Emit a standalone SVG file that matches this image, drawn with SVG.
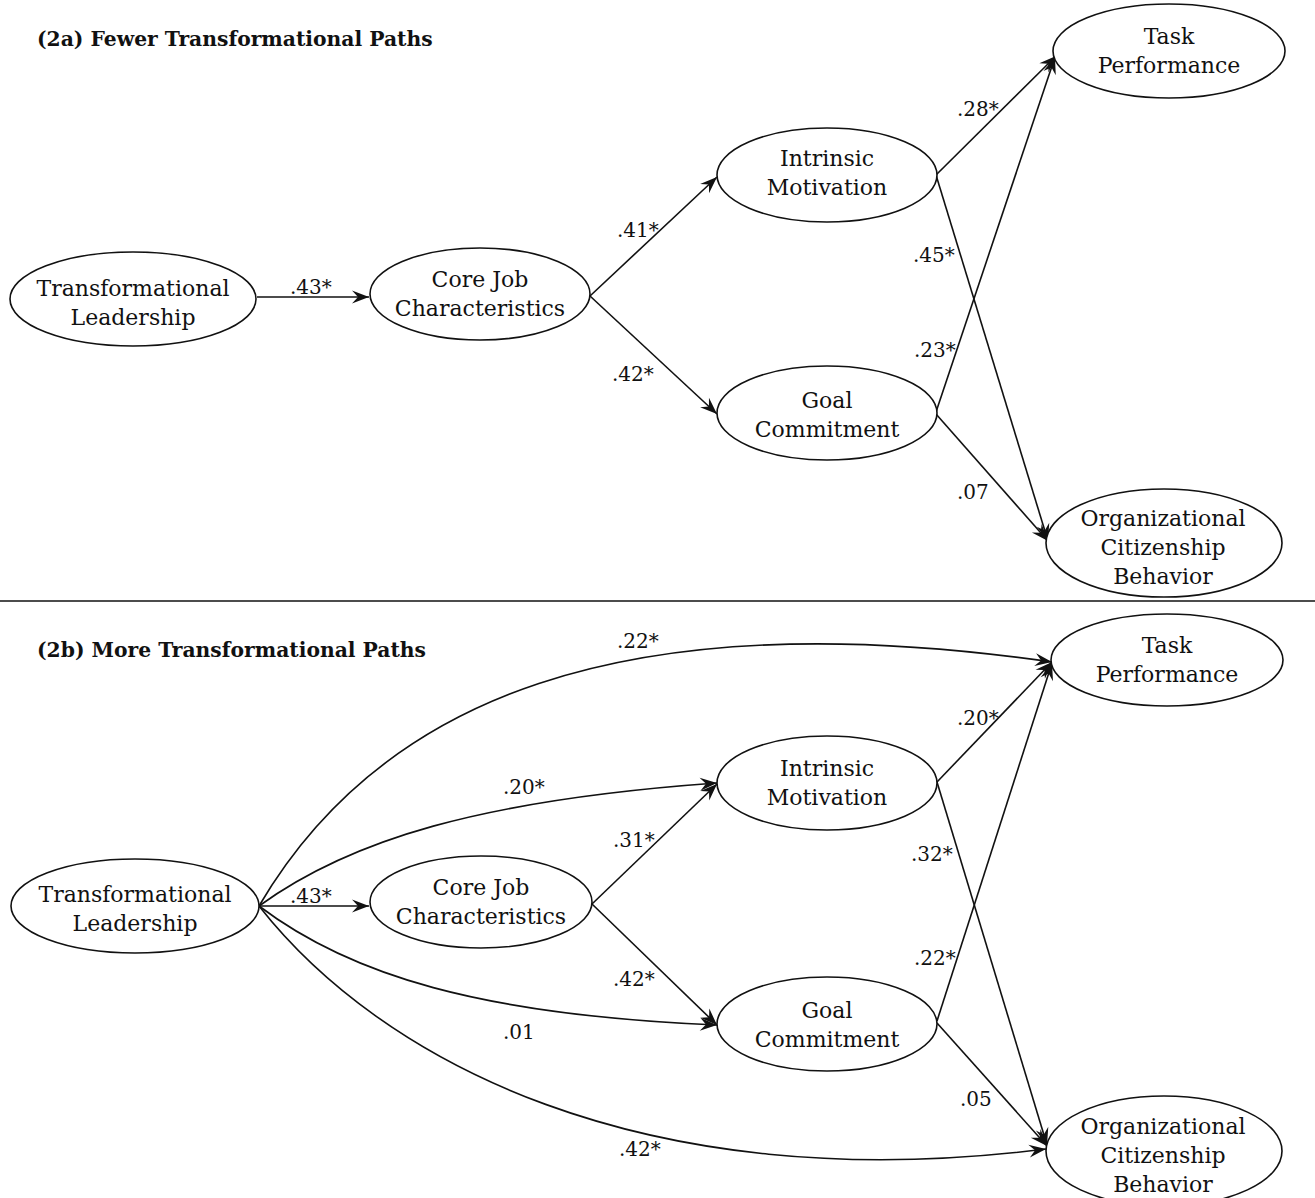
<svg xmlns="http://www.w3.org/2000/svg" width="1315" height="1198" viewBox="0 0 1315 1198">
<style>
.node ellipse{fill:#fff;stroke:#111;stroke-width:1.6}
.node text{font-family:"DejaVu Serif","Liberation Serif",serif;font-size:22px;fill:#111;text-anchor:middle}
.title{font-family:"DejaVu Serif","Liberation Serif",serif;font-size:20.3px;font-weight:bold;fill:#111}
.lbl{font-family:"DejaVu Serif","Liberation Serif",serif;font-size:20px;fill:#111}
#connectors path{fill:none;stroke:#111;stroke-width:1.6;marker-end:url(#ah)}
</style>
<defs>
<marker id="ah" viewBox="-18 -8 19 16" refX="0" refY="0" markerWidth="19" markerHeight="16" orient="auto" markerUnits="userSpaceOnUse">
<path d="M0,0 L-17,-6.5 L-11,0 L-17,6.5 Z" fill="#111"/>
</marker>
</defs>
<rect width="1315" height="1198" fill="#fff"/>
<text class="title" x="37" y="46">(2a) Fewer Transformational Paths</text>
<text class="title" x="37" y="657">(2b) More Transformational Paths</text>
<line x1="0" y1="601" x2="1315" y2="601" stroke="#111" stroke-width="1.5"/>

<g id="connectors">
<path d="M257,297 L369,297"/>
<path d="M590,296 L717,177"/>
<path d="M590,296 L717,414"/>
<path d="M936,175 L1056,56"/>
<path d="M936,175 L1048,541"/>
<path d="M936,412 L1055,57"/>
<path d="M936,414 L1048,541"/>

<path d="M259,906 L369,906"/>
<path d="M259,906 C380,700 620,600 1052,662"/>
<path d="M259,906 C350,840 480,800 717,783"/>
<path d="M259,906 C350,975 480,1015 717,1025"/>
<path d="M259,906 C380,1060 640,1200 1046,1149"/>
<path d="M592,904 L717,784"/>
<path d="M592,904 L717,1025"/>
<path d="M937,782 L1052,662"/>
<path d="M937,782 L1047,1145"/>
<path d="M937,1021 L1052,663"/>
<path d="M937,1023 L1047,1146"/>
</g>

<g id="labels">
<text class="lbl" x="290" y="294">.43*</text>
<text class="lbl" x="617" y="237">.41*</text>
<text class="lbl" x="612" y="381">.42*</text>
<text class="lbl" x="957" y="116">.28*</text>
<text class="lbl" x="913" y="262">.45*</text>
<text class="lbl" x="914" y="357">.23*</text>
<text class="lbl" x="957" y="499">.07</text>

<text class="lbl" x="617" y="648">.22*</text>
<text class="lbl" x="503" y="794">.20*</text>
<text class="lbl" x="290" y="903">.43*</text>
<text class="lbl" x="503" y="1039">.01</text>
<text class="lbl" x="619" y="1156">.42*</text>
<text class="lbl" x="613" y="847">.31*</text>
<text class="lbl" x="613" y="986">.42*</text>
<text class="lbl" x="957" y="725">.20*</text>
<text class="lbl" x="911" y="861">.32*</text>
<text class="lbl" x="914" y="965">.22*</text>
<text class="lbl" x="960" y="1106">.05</text>
</g>

<g id="a-tl" class="node"><ellipse cx="133" cy="299" rx="123" ry="47"/><text x="133" y="296">Transformational</text><text x="133" y="325">Leadership</text></g>
<g id="a-cjc" class="node"><ellipse cx="480" cy="294" rx="110" ry="46"/><text x="480" y="287">Core Job</text><text x="480" y="316">Characteristics</text></g>
<g id="a-im" class="node"><ellipse cx="827" cy="175" rx="110" ry="47"/><text x="827" y="166">Intrinsic</text><text x="827" y="195">Motivation</text></g>
<g id="a-gc" class="node"><ellipse cx="827" cy="413" rx="110" ry="47"/><text x="827" y="408">Goal</text><text x="827" y="437">Commitment</text></g>
<g id="a-tp" class="node"><ellipse cx="1169" cy="51" rx="116" ry="47"/><text x="1169" y="44">Task</text><text x="1169" y="73">Performance</text></g>
<g id="a-ocb" class="node"><ellipse cx="1164" cy="543" rx="118" ry="54"/><text x="1163" y="526">Organizational</text><text x="1163" y="555">Citizenship</text><text x="1163" y="584">Behavior</text></g>

<g id="b-tl" class="node"><ellipse cx="135" cy="906" rx="124" ry="47"/><text x="135" y="902">Transformational</text><text x="135" y="931">Leadership</text></g>
<g id="b-cjc" class="node"><ellipse cx="481" cy="902" rx="111" ry="46"/><text x="481" y="895">Core Job</text><text x="481" y="924">Characteristics</text></g>
<g id="b-im" class="node"><ellipse cx="827" cy="783" rx="110" ry="47"/><text x="827" y="776">Intrinsic</text><text x="827" y="805">Motivation</text></g>
<g id="b-gc" class="node"><ellipse cx="827" cy="1024" rx="110" ry="47"/><text x="827" y="1018">Goal</text><text x="827" y="1047">Commitment</text></g>
<g id="b-tp" class="node"><ellipse cx="1167" cy="660" rx="116" ry="46"/><text x="1167" y="653">Task</text><text x="1167" y="682">Performance</text></g>
<g id="b-ocb" class="node"><ellipse cx="1164" cy="1151" rx="118" ry="55"/><text x="1163" y="1134">Organizational</text><text x="1163" y="1163">Citizenship</text><text x="1163" y="1192">Behavior</text></g>
</svg>
